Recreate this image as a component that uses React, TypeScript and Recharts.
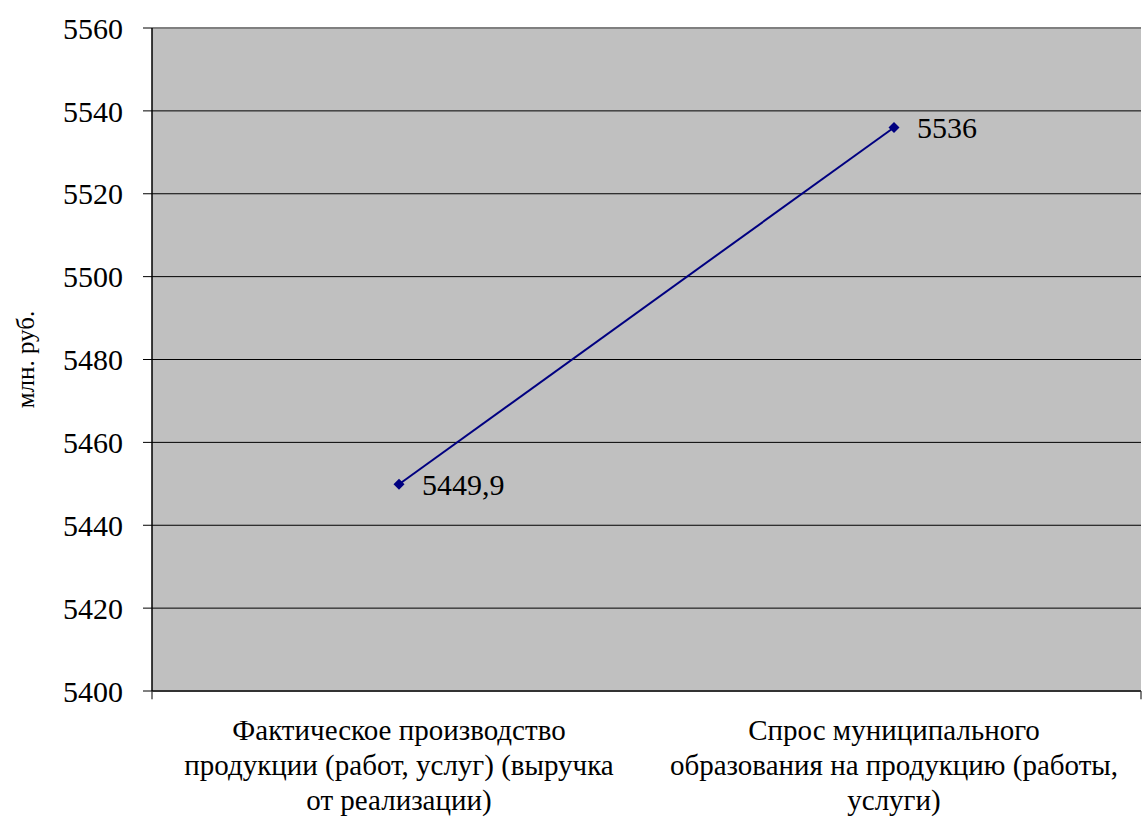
import React from "react";
import {
  LineChart,
  Line,
  XAxis,
  YAxis,
  CartesianGrid,
  ReferenceLine,
  LabelList,
} from "recharts";

const categories = [
  "Фактическое производство\nпродукции (работ, услуг) (выручка\nот реализации)",
  "Спрос муниципального\nобразования на продукцию (работы,\nуслуги)",
];
const values = [5449.9, 5536];
const yTicks = [5400, 5420, 5440, 5460, 5480, 5500, 5520, 5540, 5560];
const boundaryTicks = [0, 1, 2];
const yLabel = "млн. руб.";

const FONT =
  "Liberation Serif, Tinos, Times New Roman, Times, Noto Serif, DejaVu Serif, serif";

const data = categories.map((name, i) => ({ name, value: values[i] }));

const Diamond = ({ cx, cy }: any) => {
  if (cx == null || cy == null) return null;
  const r = 5.5;
  return (
    <polygon
      points={`${cx},${cy - r} ${cx + r},${cy} ${cx},${cy + r} ${cx - r},${cy}`}
      fill="#000080"
    />
  );
};

const CategoryTick = ({ x, y, payload }: any) => {
  const lines = String(payload.value).split("\n");
  return (
    <text
      x={x}
      y={y}
      textAnchor="middle"
      fontFamily={FONT}
      fontSize={29}
      fill="#000"
    >
      {lines.map((line, i) => (
        <tspan key={i} x={x} dy={i === 0 ? 49 : 35}>
          {line}
        </tspan>
      ))}
    </text>
  );
};

const YLabel = ({ viewBox }: any) => {
  const cx = viewBox.x + 25;
  const cy = viewBox.y + viewBox.height / 2;
  return (
    <text
      x={cx}
      y={cy}
      transform={`rotate(-90 ${cx} ${cy})`}
      textAnchor="middle"
      dominantBaseline="central"
      fontFamily={FONT}
      fontSize={25}
      fill="#000"
    >
      {yLabel}
    </text>
  );
};

export default function App() {
  return (
    <div style={{ width: 1143, height: 818, background: "#fff" }}>
      <style>{`body{margin:0}`}</style>
      <LineChart
        width={1143}
        height={818}
        data={data}
        margin={{ top: 28, right: 2, bottom: 0, left: 0 }}
        style={{ fontFamily: FONT }}
      >
        <CartesianGrid
          horizontal
          vertical={false}
          stroke="#000"
          strokeWidth={1}
          fill="#c0c0c0"
          fillOpacity={1}
        />
        <XAxis xAxisId="b" type="number" domain={[0, 2]} hide />
        <XAxis
          dataKey="name"
          height={127}
          padding={{ left: 247, right: 247 }}
          axisLine={{ stroke: "#333", strokeWidth: 2 }}
          tickLine={false}
          tickSize={0}
          tickMargin={0}
          interval={0}
          tick={<CategoryTick />}
        />
        <YAxis
          domain={[5400, 5560]}
          ticks={yTicks}
          width={152}
          axisLine={{ stroke: "#000", strokeWidth: 1.5 }}
          tickLine={{ stroke: "#000" }}
          tickSize={9}
          tickMargin={20}
          tick={{ fill: "#000", fontSize: 30, fontFamily: FONT }}
          label={<YLabel />}
        />
        <ReferenceLine y={5560} stroke="#808080" strokeWidth={2} />
        <ReferenceLine xAxisId="b" x={2} stroke="#808080" strokeWidth={2} />
        {boundaryTicks.map((t) => (
          <ReferenceLine
            key={t}
            xAxisId="b"
            segment={[
              { x: t, y: 5400 },
              { x: t, y: 5398 },
            ]}
            ifOverflow="visible"
            stroke="#000"
            strokeWidth={1}
          />
        ))}
        <Line
          type="linear"
          dataKey="value"
          stroke="#000080"
          strokeWidth={2}
          dot={<Diamond />}
          activeDot={false}
          isAnimationActive={false}
        >
          <LabelList
            dataKey="value"
            position="right"
            offset={23}
            formatter={(v: any) => String(v).replace(".", ",")}
            fontFamily={FONT}
            fontSize={30}
            fill="#000"
          />
        </Line>
      </LineChart>
    </div>
  );
}
